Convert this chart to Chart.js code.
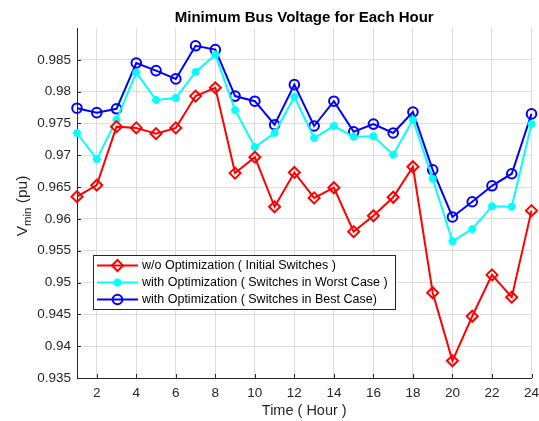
<!DOCTYPE html>
<html>
<head>
<meta charset="utf-8">
<script src="https://cdn.jsdelivr.net/npm/chart.js@4.4.1/dist/chart.umd.min.js"></script>
<style>
html,body{margin:0;padding:0;background:#fff;}
#wrap{position:relative;width:539px;height:421px;}
</style>
</head>
<body>
<div id="wrap"><canvas id="c" width="539" height="421"></canvas></div>
<script>
const hours = [1,2,3,4,5,6,7,8,9,10,11,12,13,14,15,16,17,18,19,20,21,22,23,24];
const woOptimization = [0.9635,0.9653,0.9745,0.9743,0.9734,0.9743,0.9793,0.9806,0.9672,0.9697,0.9619,0.9673,0.9633,0.9649,0.9580,0.9605,0.9634,0.9682,0.9484,0.9377,0.9447,0.9512,0.9477,0.9613];
const worstCase = [0.9735,0.9694,0.9756,0.9830,0.9787,0.9790,0.9831,0.9858,0.9771,0.9713,0.9735,0.9792,0.9727,0.9746,0.9729,0.9730,0.9701,0.9756,0.9663,0.9565,0.9584,0.9620,0.9619,0.9749];
const bestCase = [0.9774,0.9767,0.9773,0.9845,0.9833,0.9820,0.9872,0.9866,0.9793,0.9785,0.9748,0.9811,0.9746,0.9785,0.9737,0.9749,0.9735,0.9768,0.9677,0.9603,0.9627,0.9652,0.9671,0.9765];
const xTickValues = [2,4,6,8,10,12,14,16,18,20,22,24];
const yTickValues = [0.935,0.94,0.945,0.95,0.955,0.96,0.965,0.97,0.975,0.98,0.985];
const seriesNames = ['w/o Optimization ( Initial Switches )','with Optimization ( Switches in Worst Case )','with Optimization ( Switches in Best Case)'];

const AX = '#262626';
const GRID = '#dcdcdc';
const FONT = "'Liberation Sans', Arial, sans-serif";

const toXY = arr => arr.map((v,i)=>({x:hours[i], y:v}));

const legendPlugin = {
  id:'insideLegend',
  afterDraw(chart){
    const ctx = chart.ctx;
    const bx=93.5, by=255.5, bw=302, bh=54;
    ctx.save();
    ctx.fillStyle='#fff';
    ctx.fillRect(bx,by,bw,bh);
    ctx.strokeStyle=AX; ctx.lineWidth=1;
    ctx.strokeRect(bx,by,bw,bh);
    const rows=[265.5,282.5,299.5];
    chart.data.datasets.forEach((ds,i)=>{
      const y=rows[i];
      ctx.strokeStyle=ds.borderColor; ctx.lineWidth=2;
      ctx.beginPath(); ctx.moveTo(97,y); ctx.lineTo(138,y); ctx.stroke();
      ctx.strokeStyle=ds.pointBorderColor; ctx.fillStyle=ds.pointBackgroundColor; ctx.lineWidth=ds.pointBorderWidth;
      Chart.helpers.drawPoint(ctx,{pointStyle:ds.pointStyle,rotation:0,radius:ds.pointRadius,borderWidth:ds.pointBorderWidth},117.5,y);
      ctx.fillStyle='#000';
      ctx.font='12.5px '+FONT;
      ctx.textBaseline='middle'; ctx.textAlign='left';
      ctx.fillText(ds.label,142,y+0.5);
    });
    ctx.restore();
  }
};

const axisDecor = {
  id:'axisDecor',
  afterDraw(chart){
    const ctx=chart.ctx, a=chart.chartArea;
    const xs=chart.scales.x, ys=chart.scales.y;
    ctx.save();
    ctx.strokeStyle=AX; ctx.lineWidth=1;
    ctx.beginPath();
    xTickValues.forEach(v=>{const px=Math.round(xs.getPixelForValue(v))+0.5; ctx.moveTo(px,a.bottom); ctx.lineTo(px,a.bottom-4);});
    yTickValues.forEach(v=>{const py=Math.round(ys.getPixelForValue(v))+0.5; ctx.moveTo(a.left,py); ctx.lineTo(a.left+4,py);});
    ctx.stroke();
    // y title with subscript
    ctx.translate(22, 206);
    ctx.rotate(-Math.PI/2);
    ctx.fillStyle=AX;
    ctx.textBaseline='alphabetic';
    ctx.textAlign='left';
    const t1='V', t2='min', t3=' (pu)';
    ctx.font='15.5px '+FONT; const w1=ctx.measureText(t1).width;
    ctx.font='11.5px '+FONT; const w2=ctx.measureText(t2).width;
    ctx.font='15.5px '+FONT; const w3=ctx.measureText(t3).width;
    let x0=-(w1+w2+w3)/2;
    ctx.font='15.5px '+FONT; ctx.fillText(t1,x0,5); x0+=w1;
    ctx.font='11.5px '+FONT; ctx.fillText(t2,x0,9); x0+=w2;
    ctx.font='15.5px '+FONT; ctx.fillText(t3,x0,5);
    ctx.restore();
  }
};

new Chart(document.getElementById('c'),{
  type:'line',
  data:{
    datasets:[
      {label:seriesNames[0], data:toXY(woOptimization), borderColor:'#ff0000', backgroundColor:'#ff0000', borderWidth:2,
       pointStyle:'rectRot', pointRadius:5.5, pointBorderWidth:2, pointBorderColor:'#ff0000', pointBackgroundColor:'rgba(0,0,0,0)', tension:0, clip:false},
      {label:seriesNames[1], data:toXY(worstCase), borderColor:'#00ffff', backgroundColor:'#00ffff', borderWidth:2,
       pointStyle:'star', pointRadius:4, pointBorderWidth:2.5, pointBorderColor:'#00ffff', pointBackgroundColor:'#00ffff', tension:0, clip:false},
      {label:seriesNames[2], data:toXY(bestCase), borderColor:'#0000ff', backgroundColor:'#0000ff', borderWidth:2,
       pointStyle:'circle', pointRadius:4.8, pointBorderWidth:2, pointBorderColor:'#0000ff', pointBackgroundColor:'rgba(0,0,0,0)', tension:0, clip:false}
    ]
  },
  options:{
    responsive:false, animation:false, devicePixelRatio:1,
    layout:{padding:{left:0,right:7,top:0,bottom:0}},
    plugins:{
      legend:{display:false},
      tooltip:{enabled:false},
      title:{display:true, fullSize:false, text:'Minimum Bus Voltage for Each Hour', color:'#000',
        font:{family:FONT, size:15, weight:'bold'}, padding:{top:8.5,bottom:1.5}}
    },
    scales:{
      x:{type:'linear', min:1, max:24,
        afterBuildTicks(s){ s.ticks = xTickValues.map(v=>({value:v})); },
        afterFit(s){ s.paddingLeft=0; s.paddingRight=0; s.height=43; },
        grid:{color:GRID, lineWidth:1, drawTicks:false},
        border:{color:AX, width:1},
        ticks:{color:AX, font:{family:FONT,size:13.5}, padding:7.5, maxRotation:0, autoSkip:false},
        title:{display:true, text:'Time ( Hour )', color:AX, font:{family:FONT,size:14.5}, padding:{top:0,bottom:1.3}}
      },
      y:{type:'linear', min:0.935, max:0.99,
        afterBuildTicks(s){ s.ticks = yTickValues.map(v=>({value:v})); },
        afterFit(s){ s.width=77; s.paddingTop=0; s.paddingBottom=0; },
        grid:{color:GRID, lineWidth:1, drawTicks:false},
        border:{color:AX, width:1},
        ticks:{color:AX, font:{family:FONT,size:13.5}, padding:6,
          callback:v=>String(Number(v.toFixed(3)))},
        title:{display:false}
      }
    }
  },
  plugins:[legendPlugin, axisDecor]
});
</script>
</body>
</html>
